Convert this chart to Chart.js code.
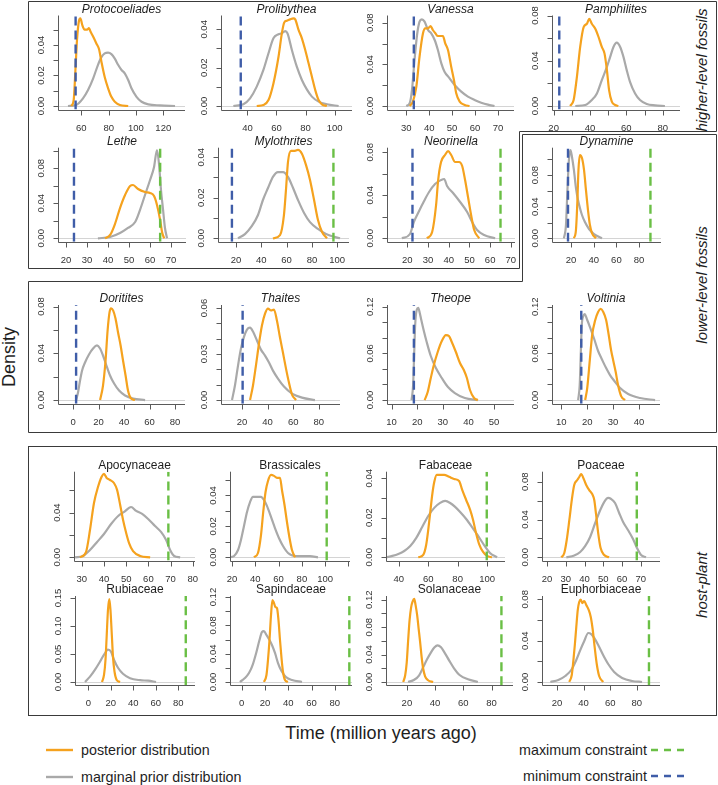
<!DOCTYPE html>
<html>
<head>
<meta charset="utf-8">
<script src="https://cdn.jsdelivr.net/npm/chart.js@4.4.1/dist/chart.umd.min.js"></script>
<style>
  body { margin: 0; background: #fff; }
  #fig { position: relative; width: 718px; height: 785px; overflow: hidden; background: #fff;
         font-family: "Liberation Sans", Arial, sans-serif; color: #1e1e1e; }
  #fig canvas { position: absolute; }
  #frame { position: absolute; left: 0; top: 0; }
  .ttl { position: absolute; font-size: 12px; transform: translate(-50%, -50%); white-space: nowrap; }
  .it { font-style: italic; }
  .rot { position: absolute; transform: translate(-50%, -50%) rotate(-90deg); white-space: nowrap; }
  .side { font-size: 15px; font-style: italic; }
  .leg { position: absolute; font-size: 14.3px; white-space: nowrap; transform: translateY(-50%); }
</style>
</head>
<body>
<div id="fig">
  <svg id="frame" width="718" height="785">
    <g fill="none" stroke="#3a3a3a" stroke-width="1">
      <polygon points="28.5,1.5 716.5,1.5 716.5,131.5 519.5,131.5 519.5,268.5 28.5,268.5"/>
      <polygon points="522.5,134.5 716.5,134.5 716.5,432.5 28.5,432.5 28.5,281.5 522.5,281.5"/>
      <rect x="28.5" y="446.5" width="688" height="269"/>
    </g>
    <line x1="46" y1="750" x2="73" y2="750" stroke="#F5A21E" stroke-width="2.4"/>
    <line x1="46" y1="777" x2="73" y2="777" stroke="#A9A9A9" stroke-width="2.4"/>
    <line x1="651" y1="750" x2="688" y2="750" stroke="#6ABF45" stroke-width="2.4" stroke-dasharray="7,6"/>
    <line x1="651" y1="776" x2="688" y2="776" stroke="#3F5DA8" stroke-width="2.4" stroke-dasharray="7,6"/>
  </svg>
  <div class="rot" style="left:9px; top:357px; font-size:18px;">Density</div>
  <div class="ttl" style="left:381px; top:733px; font-size:18px;">Time (million years ago)</div>
  <div class="rot side" style="left:701px; top:70px;">higher-level fossils</div>
  <div class="rot side" style="left:701px; top:285px;">lower-level fossils</div>
  <div class="rot side" style="left:701px; top:585px;">host-plant</div>
  <div class="leg" style="left:81px; top:750px;">posterior distribution</div>
  <div class="leg" style="left:81px; top:777px;">marginal prior distribution</div>
  <div class="leg" style="right:71px; top:750px;">maximum constraint</div>
  <div class="leg" style="right:71px; top:776px;">minimum constraint</div>
</div>
<script>
// ---- density curves: [time (Ma), density] ----
const protoPost = [[52.7,0],[54.4,0.004],[55.8,0.026],[56.8,0.043],[58.3,0.056],[59.3,0.0575],[60.7,0.053],[62.4,0.050],[64.2,0.050],[65.6,0.051],[66.6,0.049],[68.6,0.0455],[71.0,0.041],[73.0,0.037],[74.7,0.029],[77.1,0.019],[79.6,0.0116],[82.0,0.006],[84.5,0.0028],[88.2,0.0007],[94.3,0]];
const protoPrior = [[50.2,0],[56.3,0.0007],[61.2,0.005],[64.9,0.0105],[68.6,0.018],[72.2,0.027],[74.7,0.032],[77.1,0.0345],[79.6,0.035],[82.0,0.034],[84.5,0.031],[86.9,0.027],[89.4,0.0236],[91.8,0.0214],[94.3,0.017],[96.7,0.0116],[100.4,0.006],[104.1,0.0028],[109.0,0.0011],[117.6,0.0004],[128.6,0]];
const proliPost = [[46.4,0],[51.0,0.0005],[54.5,0.0031],[57.9,0.0118],[61.4,0.0257],[63.7,0.0379],[65.3,0.0435],[67.1,0.0445],[69.4,0.0452],[71.7,0.0457],[72.9,0.0452],[75.2,0.0397],[77.5,0.0353],[79.8,0.0292],[82.1,0.0223],[84.4,0.0153],[86.7,0.0083],[89.0,0.0031],[91.3,0.0009],[94.7,0]];
const proliPrior = [[30.3,0],[37.2,0.0009],[41.8,0.004],[46.4,0.0101],[51.0,0.0188],[54.5,0.0275],[57.9,0.0353],[61.4,0.0374],[63.7,0.0379],[66.0,0.0391],[67.6,0.0379],[70.6,0.0292],[74.0,0.0205],[77.5,0.0136],[80.9,0.0087],[84.4,0.0049],[89.0,0.0023],[94.7,0.0009],[102.8,0]];
const vanPost = [[31.5,0],[32.9,0.0042],[34.4,0.0186],[35.8,0.0474],[37.3,0.0698],[38.3,0.0746],[39.5,0.0746],[40.6,0.0768],[41.6,0.073],[42.7,0.0698],[43.8,0.0672],[45.0,0.0672],[46.0,0.0672],[47.0,0.0602],[48.2,0.0538],[49.6,0.0378],[50.8,0.025],[51.8,0.0122],[53.3,0.0042],[55.5,0.001],[57.6,0]];
const vanPrior = [[30,0],[31.5,0.0026],[32.5,0.0154],[33.6,0.0442],[34.8,0.0698],[35.8,0.081],[36.8,0.0832],[38.0,0.081],[39.5,0.073],[40.9,0.0698],[42.4,0.0634],[43.8,0.0538],[45.3,0.041],[46.7,0.033],[48.9,0.0266],[51.1,0.0202],[54.0,0.0138],[56.9,0.009],[59.8,0.0058],[62.7,0.0032],[65.6,0.0013],[68.5,0]];
const pamPost = [[29.1,0],[31.0,0.0053],[32.8,0.0258],[34.6,0.0522],[36.5,0.0698],[38.3,0.0727],[39.6,0.0771],[41.0,0.0727],[42.9,0.0683],[44.7,0.061],[46.5,0.0522],[48.0,0.0463],[49.3,0.0317],[50.5,0.0141],[52.0,0.0038],[53.8,0.0009],[55.6,0]];
const pamPrior = [[31.9,0],[37.4,0.0009],[41.0,0.0053],[43.8,0.0111],[46.5,0.0229],[49.3,0.0346],[51.1,0.0434],[52.9,0.0522],[54.7,0.056],[56.6,0.0522],[58.4,0.0434],[60.2,0.0317],[62.0,0.0214],[64.8,0.0111],[67.5,0.0053],[71.2,0.0018],[75.8,0.0006],[81.2,0]];
const lethePost = [[38.6,0],[41.0,0.0038],[43.3,0.0163],[45.7,0.0346],[48.1,0.0495],[50.5,0.0598],[51.9,0.0609],[54.3,0.0563],[57.6,0.0529],[60.0,0.0518],[61.9,0.0483],[63.3,0.0381],[64.8,0.0209],[65.7,0.0072],[66.7,0]];
const lethePrior = [[35.2,0],[41.0,0.0015],[45.7,0.006],[49.5,0.0118],[52.9,0.0186],[55.2,0.0323],[57.6,0.0495],[60.0,0.0666],[61.9,0.0815],[63.3,0.1009],[64.3,0.0838],[65.2,0.0552],[66.2,0.0323],[67.1,0.0118],[68.1,0]];
const myloPost = [[49.2,0],[54.8,0.0016],[57.9,0.0115],[59.5,0.0239],[61.1,0.0377],[63.5,0.0431],[65.8,0.0431],[69.0,0.0436],[72.2,0.0416],[75.3,0.0362],[78.5,0.0288],[81.7,0.0189],[84.8,0.009],[88.0,0.0031],[91.9,0]];
const myloPrior = [[21.6,0],[27.1,0.0021],[32.6,0.0061],[37.4,0.0115],[41.3,0.0189],[45.3,0.0248],[49.2,0.0303],[53.2,0.0327],[57.2,0.0327],[61.1,0.0303],[65.1,0.0248],[69.0,0.0189],[73.8,0.0125],[78.5,0.008],[84.8,0.0046],[91.1,0.0021],[102.2,0]];
const neorPost = [[29.5,0],[32.0,0.0059],[33.9,0.031],[34.9,0.0542],[36.3,0.071],[38.2,0.0775],[39.7,0.0812],[41.2,0.0775],[43.1,0.071],[45.0,0.071],[46.5,0.0673],[47.9,0.0542],[49.4,0.0375],[50.8,0.0217],[52.3,0.0077],[54.7,0]];
const neorPrior = [[17.4,0],[21.3,0.004],[23.2,0.0152],[25.7,0.0254],[28.1,0.0347],[30.5,0.0431],[33.4,0.0505],[36.3,0.0542],[37.8,0.0552],[39.2,0.0487],[42.1,0.0421],[45.5,0.0338],[48.9,0.0245],[51.3,0.0152],[53.7,0.0077],[57.1,0.0031],[62.4,0]];
const dynPost = [[22.6,0],[24.4,0.0105],[25.7,0.0485],[26.6,0.0865],[27.9,0.1054],[29.7,0.1016],[31.5,0.0865],[33.2,0.0612],[35.0,0.0358],[36.7,0.0168],[38.5,0.0067],[42.0,0]];
const dynPrior = [[13.8,0],[15.6,0.0168],[16.9,0.0611],[18.2,0.0991],[19.6,0.1118],[20.9,0.1029],[22.6,0.0865],[24.4,0.0637],[26.2,0.0485],[27.9,0.0383],[29.7,0.0295],[32.3,0.0206],[35.9,0.0118],[40.3,0.0054],[47.3,0]];
const doritPost = [[21.2,0],[23.5,0.0124],[25.5,0.0338],[27.1,0.0595],[28.6,0.075],[29.8,0.0784],[31.4,0.0767],[33.3,0.0698],[35.3,0.0578],[37.3,0.0467],[39.2,0.0338],[41.2,0.021],[43.1,0.0081],[45.5,0.0013],[48.6,0]];
const doritPrior = [[2.4,0],[3.9,0.0064],[5.5,0.0167],[7.1,0.0253],[9.4,0.0321],[12.5,0.039],[15.7,0.0441],[18.8,0.0467],[21.2,0.0441],[23.5,0.0381],[25.9,0.0304],[29.0,0.021],[32.2,0.0141],[36.1,0.0081],[40.8,0.0039],[47.1,0.0013],[56.5,0]];
const thaiPost = [[26.3,0],[28.6,0.0095],[30.9,0.0225],[33.3,0.0369],[35.6,0.0486],[38.0,0.0564],[40.3,0.0597],[42.7,0.0584],[45.0,0.059],[47.3,0.0519],[49.7,0.0408],[52.0,0.031],[54.4,0.0205],[56.7,0.0114],[59.1,0.0036],[62.2,0]];
const thaiPrior = [[12.2,0],[14.5,0.0095],[16.9,0.0225],[19.2,0.0336],[21.6,0.0414],[23.9,0.046],[26.3,0.0473],[28.6,0.0447],[31.7,0.0388],[34.8,0.0329],[38.0,0.029],[41.1,0.0245],[44.2,0.0192],[48.1,0.014],[52.8,0.0088],[59.1,0.0042],[66.9,0.0016],[77.0,0]];
const theoPost = [[22.9,0],[24.1,0.0103],[25.3,0.0283],[26.5,0.045],[28.0,0.0617],[29.6,0.0758],[31.2,0.0835],[32.4,0.0823],[33.5,0.0746],[35.1,0.0617],[36.7,0.0476],[38.2,0.0386],[39.4,0.0283],[40.6,0.0129],[42.2,0.0026],[43.7,0]];
const theoPrior = [[17.8,0],[18.4,0.0193],[18.8,0.0578],[19.2,0.0964],[19.8,0.1157],[20.4,0.1183],[21.0,0.1118],[21.6,0.1028],[22.5,0.09],[23.7,0.0746],[25.3,0.0566],[27.3,0.0411],[29.6,0.0283],[32.0,0.0167],[34.7,0.009],[38.6,0.0026],[43.7,0]];
const voltPost = [[19.2,0],[20.0,0.0154],[21.0,0.0514],[21.9,0.0835],[23.1,0.1028],[24.2,0.1131],[25.2,0.117],[26.2,0.1131],[27.3,0.1028],[28.3,0.0835],[29.2,0.0643],[30.0,0.0514],[31.0,0.036],[31.9,0.0193],[33.1,0.0051],[34.6,0]];
const voltPrior = [[16.5,0],[17.1,0.0193],[17.5,0.0578],[17.9,0.0964],[18.5,0.108],[19.0,0.1105],[20.0,0.1028],[21.2,0.0925],[22.7,0.0784],[24.2,0.063],[25.8,0.0514],[27.3,0.0411],[28.8,0.0321],[30.8,0.0231],[32.7,0.0154],[35.8,0.0077],[40.4,0.0026],[46.2,0]];
const apocPost = [[29.2,0],[31.9,0.0047],[33.7,0.0244],[35.5,0.0486],[37.3,0.0629],[38.9,0.0719],[40.0,0.0746],[41.2,0.071],[42.7,0.0692],[44.5,0.0665],[45.9,0.0603],[47.3,0.0468],[48.6,0.0334],[50.0,0.0218],[51.3,0.0128],[53.1,0.0056],[56.3,0.0012],[60.8,0]];
const apocPrior = [[27.0,0],[30.6,0.0012],[33.7,0.0065],[36.9,0.0137],[40.0,0.0209],[43.2,0.0298],[46.4,0.037],[49.1,0.0406],[52.2,0.045],[54.5,0.0415],[57.2,0.0388],[59.9,0.0343],[63.0,0.028],[65.7,0.0227],[68.0,0.0155],[69.8,0.0065],[71.6,0.0012],[74.3,0]];
const brassPost = [[38.9,0],[42.3,0.0028],[44.9,0.0144],[47.0,0.0306],[48.8,0.0422],[50.9,0.0493],[53.5,0.0532],[56.1,0.0526],[58.6,0.0513],[61.2,0.0513],[62.9,0.0435],[65.1,0.0338],[67.2,0.0228],[69.4,0.0125],[71.5,0.0047],[74.1,0]];
const brassPrior = [[17.4,0],[21.7,0.0008],[25.2,0.0047],[27.7,0.0112],[30.3,0.0202],[32.9,0.0293],[35.5,0.0357],[38.0,0.039],[41.5,0.039],[44.9,0.039],[47.5,0.037],[50.0,0.0332],[53.5,0.0261],[56.9,0.0189],[60.3,0.0125],[63.8,0.0073],[68.1,0.0028],[74.9,0.0008],[87.0,0.0008],[93.8,0]];
const fabPost = [[53.2,0],[56.6,0.0012],[58.6,0.0062],[60.0,0.0138],[61.4,0.0229],[62.7,0.0315],[64.1,0.0381],[65.8,0.0417],[68.1,0.0417],[70.8,0.0417],[74.2,0.0407],[77.6,0.0396],[81.0,0.0386],[83.1,0.0341],[85.8,0.029],[88.5,0.024],[90.5,0.0189],[92.5,0.0123],[94.6,0.0067],[97.3,0.0027],[100.0,0.0007],[103.4,0]];
const fabPrior = [[31.5,0],[35.6,0.0007],[39.7,0.0017],[43.7,0.0032],[47.8,0.0057],[51.9,0.0098],[55.9,0.0153],[60.0,0.0209],[64.1,0.025],[68.1,0.0275],[71.5,0.0285],[74.9,0.0275],[78.3,0.0255],[81.7,0.0229],[85.8,0.0194],[89.8,0.0153],[93.9,0.0108],[98.0,0.0062],[102.0,0.0022],[106.8,0]];
const poacPost = [[27.6,0],[29.2,0.0046],[30.5,0.0183],[31.9,0.0395],[33.2,0.0606],[34.5,0.0765],[36.1,0.0818],[37.2,0.085],[38.2,0.0881],[39.6,0.0829],[40.9,0.0765],[42.5,0.0712],[44.1,0.067],[45.2,0.0606],[46.2,0.0448],[47.3,0.0257],[48.6,0.0098],[50.5,0.0024],[53.1,0]];
const poacPrior = [[30.3,0],[34.5,0.0019],[37.7,0.0056],[40.4,0.012],[43.0,0.0215],[45.7,0.0363],[48.4,0.05],[50.5,0.0585],[52.6,0.0628],[54.2,0.0617],[56.3,0.0575],[58.5,0.0469],[60.6,0.0374],[63.2,0.0289],[65.9,0.0194],[68.0,0.0098],[70.2,0.0024],[72.8,0]];
const rubiPost = [[12.2,0],[14.0,0.013],[15.3,0.0398],[16.4,0.0845],[17.5,0.1291],[18.7,0.1479],[19.7,0.1291],[20.9,0.0845],[22.0,0.0434],[23.3,0.0184],[25.1,0.0041],[28.2,0]];
const rubiPrior = [[-2.9,0],[1.5,0.0095],[6.0,0.022],[10.4,0.0363],[14.0,0.0488],[17.5,0.0577],[20.2,0.0541],[22.8,0.0398],[26.4,0.0255],[30.8,0.0148],[37.1,0.0068],[46.0,0.0032],[53.1,0.0023],[60.2,0]];
const sapiPost = [[19.1,0],[21.3,0.0099],[22.6,0.0311],[23.9,0.0593],[25.2,0.0946],[26.4,0.1158],[27.7,0.1116],[29.0,0.1059],[30.3,0.1045],[31.6,0.0876],[32.9,0.0593],[34.2,0.0339],[35.5,0.0141],[37.2,0.0028],[39.7,0]];
const sapiPrior = [[-1.5,0],[2.8,0.0056],[6.3,0.0127],[9.7,0.0254],[12.7,0.0424],[15.3,0.0593],[17.4,0.0706],[19.1,0.072],[21.3,0.0664],[23.9,0.0593],[26.0,0.0523],[28.6,0.041],[31.2,0.0268],[34.2,0.0155],[38.0,0.0071],[43.2,0.0028],[51.8,0]];
const solanPost = [[17.4,0],[18.8,0.0098],[19.9,0.0287],[20.9,0.0608],[21.9,0.0899],[23.0,0.1089],[24.1,0.1176],[25.2,0.1213],[26.2,0.1118],[27.3,0.0972],[28.3,0.0783],[29.4,0.0579],[30.4,0.0375],[31.5,0.02],[32.9,0.0083],[35.0,0.0025],[38.6,0]];
const solanPrior = [[20.9,0],[25.2,0.0032],[28.7,0.0098],[31.5,0.0214],[34.3,0.0331],[37.1,0.0433],[39.6,0.0506],[41.7,0.0535],[44.2,0.0506],[47.0,0.0418],[49.9,0.0316],[53.4,0.02],[57.6,0.0098],[63.3,0.0039],[70.3,0]];
const euphPost = [[29.2,0],[31.1,0.0068],[32.2,0.0193],[33.4,0.0358],[34.5,0.0532],[35.6,0.0696],[36.7,0.0774],[37.9,0.0798],[39.0,0.0764],[40.5,0.0783],[42.0,0.0745],[43.9,0.0696],[45.4,0.0629],[46.9,0.0503],[48.4,0.0329],[49.9,0.0174],[51.7,0.0058],[54.7,0]];
const euphPrior = [[15.0,0],[21.0,0.0019],[26.2,0.0058],[30.7,0.0116],[34.5,0.0213],[37.5,0.0309],[40.5,0.0397],[43.5,0.0474],[45.7,0.0464],[48.0,0.0426],[51.0,0.0358],[54.7,0.0261],[58.5,0.0174],[63.0,0.0097],[69.0,0.0039],[76.5,0.001],[84.0,0]];

// ---- calibration constraints (Ma) ----
const minConstraints = { proto: 55.8, proli: 35.4, van: 33.3, pam: 23.1, lethe: 23.8, mylo: 16.8, neor: 22.5, dyn: 17.4,
                         dorit: 2.4, thai: 20.5, theo: 18.7, volt: 17.7 };
const maxConstraints = { lethe: 64.8, mylo: 97, neor: 65, dyn: 90, apoc: 69, brass: 101.3, fab: 99.8, poac: 67.9,
                         rubi: 86.6, sapi: 92.4, solan: 87, euph: 89.2 };

// ---- tick values ----
const xt60to120 = [60, 80, 100, 120];
const xt40to100 = [40, 60, 80, 100];
const xt30to70 = [30, 40, 50, 60, 70];
const xt20to90 = [20, 30, 40, 50, 60, 70, 80];
const xt20to70 = [20, 30, 40, 50, 60, 70];
const xt20to100 = [20, 40, 60, 80, 100];
const xt20to80 = [20, 40, 60, 80];
const xt0to80 = [0, 20, 40, 60, 80];
const xt10to50 = [10, 20, 30, 40, 50];
const xt10to40 = [10, 20, 30, 40];
const xt30to80 = [30, 40, 50, 60, 70, 80];
const xt20to120 = [20, 40, 60, 80, 100, 120];
const xLab20to100 = [20, 40, 60, 80, 100];
const xLab20to80 = [20, 40, 60, 80];

const yt05 = [0, 0.01, 0.02, 0.03, 0.04, 0.05];
const yt04 = [0, 0.01, 0.02, 0.03, 0.04];
const yt08 = [0, 0.02, 0.04, 0.06, 0.08];
const yt10 = [0, 0.02, 0.04, 0.06, 0.08, 0.10];
const yt06 = [0, 0.01, 0.02, 0.03, 0.04, 0.05, 0.06];
const yt12 = [0, 0.02, 0.04, 0.06, 0.08, 0.10, 0.12];
const yt06b = [0, 0.02, 0.04, 0.06];
const yt15 = [0, 0.05, 0.10, 0.15];
const yLab04 = [0, 0.02, 0.04];
const yLab08 = [0, 0.04, 0.08];
const yLab06 = [0, 0.03, 0.06];
const yLab12 = [0, 0.06, 0.12];
const yLab12b = [0, 0.04, 0.08, 0.12];
const yLab04b = [0, 0.04];

// ---- layout of the 5 rows and 20 panels (pixels of each plot region) ----
const rowTop = [15.5, 147.7, 305, 471.7, 596];
const rowBottom = [109.5, 241.8, 403.7, 560.6, 685.3];

const panels = [
  { key: 'proto', name: 'Protocoeliades', it: true, row: 0, left: 58, right: 185, xMin: 42.9, xMax: 135.9, yMax: 0.0593, post: protoPost, prior: protoPrior, xt: xt60to120, xl: xt60to120, yt: yt05, yl: yLab04 },
  { key: 'proli', name: 'Prolibythea', it: true, row: 0, left: 221, right: 352, xMin: 21.8, xMax: 112, yMax: 0.0472, post: proliPost, prior: proliPrior, xt: xt40to100, xl: xt40to100, yt: yt04, yl: yLab04 },
  { key: 'van', name: 'Vanessa', it: true, row: 0, left: 387, right: 514, xMin: 21.6, xMax: 77, yMax: 0.0869, post: vanPost, prior: vanPrior, xt: xt30to70, xl: xt30to70, yt: yt08, yl: yLab08 },
  { key: 'pam', name: 'Pamphilites', it: true, row: 0, left: 552, right: 680, xMin: 19.1, xMax: 89.5, yMax: 0.080, post: pamPost, prior: pamPrior, xt: xt20to90, xl: xLab20to80, yt: yt08, yl: yLab08 },
  { key: 'lethe', name: 'Lethe', it: true, row: 1, left: 58, right: 186, xMin: 16.2, xMax: 77.1, yMax: 0.1035, post: lethePost, prior: lethePrior, xt: xt20to70, xl: xt20to70, yt: yt10, yl: yLab08 },
  { key: 'mylo', name: 'Mylothrites', it: true, row: 1, left: 218, right: 349, xMin: 5.8, xMax: 109.3, yMax: 0.0447, post: myloPost, prior: myloPrior, xt: xt20to100, xl: xt20to100, yt: yt04, yl: yLab04 },
  { key: 'neor', name: 'Neorinella', it: true, row: 1, left: 387, right: 515, xMin: 10.2, xMax: 72, yMax: 0.0843, post: neorPost, prior: neorPrior, xt: xt20to70, xl: xt20to70, yt: yt08, yl: yLab08 },
  { key: 'dyn', name: 'Dynamine', it: true, row: 1, left: 552, right: 661, xMin: 3.3, xMax: 99.3, yMax: 0.1147, post: dynPost, prior: dynPrior, xt: xt20to80, xl: xt20to80, yt: yt10, yl: yLab08 },
  { key: 'dorit', name: 'Doritites', it: true, row: 2, left: 58, right: 185, xMin: -11.8, xMax: 87.8, yMax: 0.0813, post: doritPost, prior: doritPrior, xt: xt0to80, xl: xt0to80, yt: yt08, yl: yLab08 },
  { key: 'thai', name: 'Thaites', it: true, row: 2, left: 221, right: 340, xMin: 3.6, xMax: 96.6, yMax: 0.062, post: thaiPost, prior: thaiPrior, xt: xt20to80, xl: xt20to80, yt: yt06, yl: yLab06 },
  { key: 'theo', name: 'Theope', it: true, row: 2, left: 387, right: 514, xMin: 8.2, xMax: 57.8, yMax: 0.1221, post: theoPost, prior: theoPrior, xt: xt10to50, xl: xt10to50, yt: yt12, yl: yLab12 },
  { key: 'volt', name: 'Voltinia', it: true, row: 2, left: 552, right: 660, xMin: 6.4, xMax: 48.1, yMax: 0.1221, post: voltPost, prior: voltPrior, xt: xt10to40, xl: xt10to40, yt: yt12, yl: yLab12 },
  { key: 'apoc', name: 'Apocynaceae', it: false, row: 3, left: 74, right: 195, xMin: 26.5, xMax: 81, yMax: 0.0766, post: apocPost, prior: apocPrior, xt: xt30to80, xl: xt30to80, yt: yt06b, yl: yLab04b },
  { key: 'brass', name: 'Brassicales', it: false, row: 3, left: 230, right: 350, xMin: 18.3, xMax: 121.3, yMax: 0.0553, post: brassPost, prior: brassPrior, xt: xt20to120, xl: xLab20to100, yt: yt05, yl: yLab04 },
  { key: 'fab', name: 'Fabaceae', it: false, row: 3, left: 386, right: 505, xMin: 31.3, xMax: 112.2, yMax: 0.0433, post: fabPost, prior: fabPrior, xt: xt40to100, xl: xt40to100, yt: yt04, yl: yLab04 },
  { key: 'poac', name: 'Poaceae', it: false, row: 3, left: 542, right: 660, xMin: 17.3, xMax: 80.3, yMax: 0.0906, post: poacPost, prior: poacPrior, xt: xt20to70, xl: xt20to70, yt: yt08, yl: yLab08 },
  { key: 'rubi', name: 'Rubiaceae', it: false, row: 4, left: 75, right: 195, xMin: -11.8, xMax: 94.8, yMax: 0.1536, post: rubiPost, prior: rubiPrior, xt: xt0to80, xl: xt0to80, yt: yt15, yl: yt15 },
  { key: 'sapi', name: 'Sapindaceae', it: false, row: 4, left: 230, right: 352, xMin: -10, xMax: 94.7, yMax: 0.1215, post: sapiPost, prior: sapiPrior, xt: xt0to80, xl: xt0to80, yt: yt12, yl: yLab12b },
  { key: 'solan', name: 'Solanaceae', it: false, row: 4, left: 386, right: 513, xMin: 5.2, xMax: 95.2, yMax: 0.1254, post: solanPost, prior: solanPrior, xt: xt20to80, xl: xt20to80, yt: yt12, yl: yLab12b },
  { key: 'euph', name: 'Euphorbiaceae', it: false, row: 4, left: 542, right: 660, xMin: 8.7, xMax: 97.5, yMax: 0.0832, post: euphPost, prior: euphPrior, xt: xt20to80, xl: xt20to80, yt: yt08, yl: yLab08 }
];

const ORANGE = '#F5A21E', GREY = '#A9A9A9', BLUE = '#3F5DA8', GREEN = '#6ABF45';
const AXIS = '#5a5a5a';
const TICK_FONT = '9.5px "Liberation Sans", Arial, sans-serif';

// R-like axes: L-shaped box, outward ticks, rotated y labels, grey line at zero
function rAxes(p) {
  return {
    id: 'rAxes',
    beforeDatasetsDraw(chart) {
      const { ctx, chartArea: a, scales: { y } } = chart;
      const y0 = Math.round(y.getPixelForValue(0)) + 0.5;
      ctx.save();
      ctx.strokeStyle = '#d4d4d4';
      ctx.lineWidth = 1;
      ctx.beginPath();
      ctx.moveTo(a.left, y0);
      ctx.lineTo(a.right, y0);
      ctx.stroke();
      ctx.restore();
    },
    afterDatasetsDraw(chart) {
      const { ctx, chartArea: a, scales: { x, y } } = chart;
      const L = Math.round(a.left) + 0.5, B = Math.round(a.bottom) + 0.5;
      ctx.save();
      ctx.strokeStyle = AXIS;
      ctx.lineWidth = 1;
      ctx.beginPath();
      ctx.moveTo(L, a.top);
      ctx.lineTo(L, B);
      ctx.lineTo(a.right, B);
      p.xt.forEach(v => {
        const px = Math.round(x.getPixelForValue(v)) + 0.5;
        ctx.moveTo(px, B);
        ctx.lineTo(px, B + 5);
      });
      p.yt.forEach(v => {
        const py = Math.round(y.getPixelForValue(v)) + 0.5;
        ctx.moveTo(L, py);
        ctx.lineTo(L - 5, py);
      });
      ctx.stroke();
      ctx.fillStyle = '#333';
      ctx.font = TICK_FONT;
      ctx.textAlign = 'center';
      ctx.textBaseline = 'middle';
      p.xl.forEach(v => ctx.fillText(String(v), x.getPixelForValue(v), B + 18));
      p.yl.forEach(v => {
        ctx.save();
        ctx.translate(L - 17, y.getPixelForValue(v));
        ctx.rotate(-Math.PI / 2);
        ctx.fillText(v.toFixed(2), 0, 0);
        ctx.restore();
      });
      ctx.restore();
    }
  };
}

function curve(points, color, order) {
  return {
    data: points.map(([x, y]) => ({ x, y })),
    borderColor: color, borderWidth: 2.2, pointRadius: 0, fill: false,
    cubicInterpolationMode: 'monotone', order
  };
}
function vline(at, y0, y1, color) {
  return {
    data: [{ x: at, y: y0 }, { x: at, y: y1 }],
    borderColor: color, borderWidth: 2.4, borderDash: [9, 5], pointRadius: 0, fill: false, order: 0
  };
}

const fig = document.getElementById('fig');
panels.forEach(p => {
  const top = rowTop[p.row], bottom = rowBottom[p.row];
  // leave room above the plot so the rotated top tick label is not cut
  const cl = Math.floor(p.left) - 42, ct = Math.floor(top) - 15;
  const cw = Math.ceil(p.right) + 6 - cl, ch = Math.ceil(bottom) + 30 - ct;
  const cv = document.createElement('canvas');
  cv.width = cw; cv.height = ch;
  cv.style.left = cl + 'px'; cv.style.top = ct + 'px';
  cv.style.width = cw + 'px'; cv.style.height = ch + 'px';
  fig.appendChild(cv);

  const yMin = -p.yMax / 26;
  const datasets = [curve(p.post, ORANGE, 1), curve(p.prior, GREY, 2)];
  if (minConstraints[p.key] !== undefined) datasets.push(vline(minConstraints[p.key], yMin, p.yMax, BLUE));
  if (maxConstraints[p.key] !== undefined) datasets.push(vline(maxConstraints[p.key], yMin, p.yMax, GREEN));

  new Chart(cv, {
    type: 'line',
    data: { datasets },
    options: {
      responsive: false,
      animation: false,
      events: [],
      layout: { padding: { left: p.left - cl, top: top - ct, right: cl + cw - p.right, bottom: ct + ch - bottom } },
      scales: {
        x: { type: 'linear', min: p.xMin, max: p.xMax, display: false },
        y: { type: 'linear', min: yMin, max: p.yMax, display: false }
      },
      plugins: { legend: { display: false }, tooltip: { enabled: false } }
    },
    plugins: [rAxes(p)]
  });

  const t = document.createElement('div');
  t.className = 'ttl' + (p.it ? ' it' : '');
  t.textContent = p.name;
  t.style.left = ((p.left + p.right) / 2) + 'px';
  t.style.top = (top - 7) + 'px';
  fig.appendChild(t);
});
</script>
</body>
</html>
